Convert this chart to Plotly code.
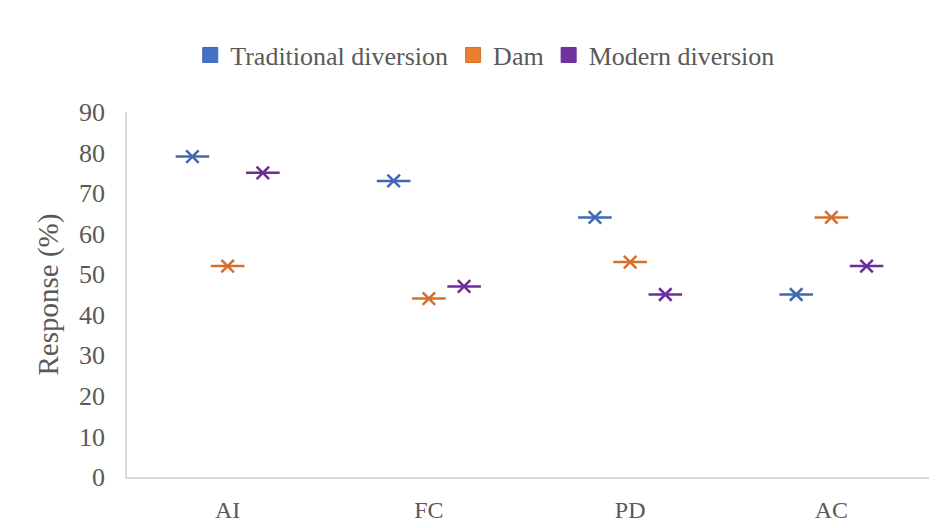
import plotly.graph_objects as go

categories = ["AI", "FC", "PD", "AC"]
traditional = [79, 73, 64, 45]
dam = [52, 44, 53, 64]
modern = [75, 47, 45, 52]

series = [
    ("Traditional diversion", traditional, "#4472C4", "#3F69B0"),
    ("Dam", dam, "#ED7D31", "#D46F2C"),
    ("Modern diversion", modern, "#7030A0", "#6A2E98"),
]

FONT = "Liberation Serif"
TXT = "#595959"

fig = go.Figure()
for name, vals, fill, line in series:
    # horizontal bar of the Excel "star" marker
    fig.add_trace(go.Scatter(
        x=categories, y=vals, mode="markers", offsetgroup=name, showlegend=False,
        hoverinfo="skip",
        marker=dict(symbol="line-ew-open", size=24, color=line,
                    line=dict(color=line, width=2.5)),
    ))
    # diagonal cross of the marker
    fig.add_trace(go.Scatter(
        x=categories, y=vals, mode="markers", offsetgroup=name, showlegend=False,
        name=name,
        marker=dict(symbol="x-thin-open", size=12.5, color=line,
                    line=dict(color=line, width=2.5)),
    ))
    # legend swatch
    fig.add_trace(go.Scatter(
        x=[None], y=[None], mode="markers", offsetgroup=name, name=name,
        marker=dict(symbol="square", size=15, color=fill,
                    line=dict(color=line, width=1)),
    ))

fig.update_layout(
    template="none",
    width=937, height=528,
    margin=dict(l=119, r=13, t=104, b=59),
    paper_bgcolor="white", plot_bgcolor="white",
    scattermode="group", scattergap=0.475,
    font=dict(family=FONT, color=TXT, size=24),
    showlegend=True,
    legend=dict(orientation="h", x=0.445, xanchor="center", y=1.156, yanchor="middle",
                font=dict(family=FONT, size=26, color=TXT), itemclick=False,
                traceorder="normal", bgcolor="rgba(0,0,0,0)"),
    xaxis=dict(automargin=False, showline=True, linecolor="#D9D9D9", linewidth=1.5,
               showgrid=False, zeroline=False, ticks="", ticklabelstandoff=10,
               tickfont=dict(family=FONT, size=24, color=TXT)),
    yaxis=dict(automargin=False, range=[0, 90], dtick=10, showline=True,
               linecolor="#D9D9D9", linewidth=1.5,
               showgrid=False, zeroline=False, ticks="", ticklabelstandoff=15,
               tickfont=dict(family=FONT, size=26, color=TXT)),
    annotations=[dict(text="Response (%)", textangle=-90, x=0, xref="paper", y=0.5,
                      yref="paper", xanchor="center", yanchor="middle", xshift=-79,
                      showarrow=False, font=dict(family=FONT, size=29, color=TXT))],
)

fig.write_html("out.html")
